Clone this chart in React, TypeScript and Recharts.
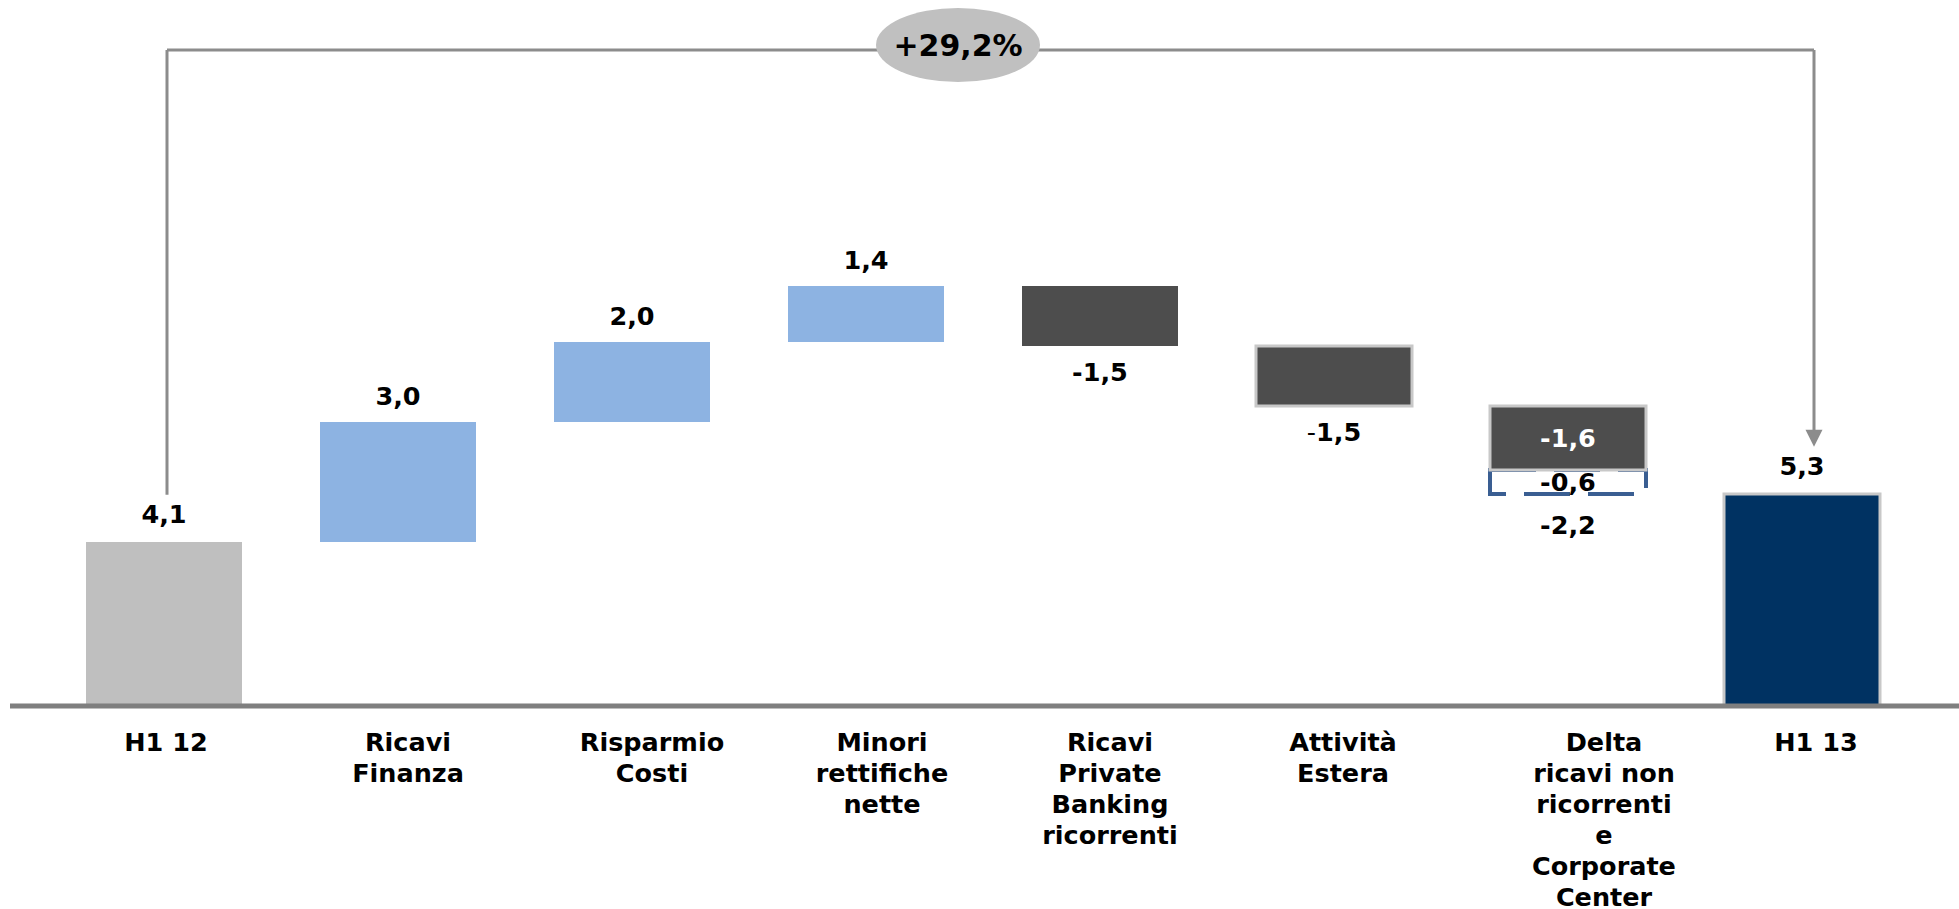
import { Bar, BarChart, ReferenceLine, XAxis, YAxis } from "recharts";

// categories (line breaks as in the slide)
const categories = [
  "H1 12",
  "Ricavi\nFinanza",
  "Risparmio\nCosti",
  "Minori\nrettifiche\nnette",
  "Ricavi\nPrivate\nBanking\nricorrenti",
  "Attività\nEstera",
  "Delta\nricavi non\nricorrenti\ne\nCorporate\nCenter",
  "H1 13",
];
const kinds = ["total", "step", "step", "step", "step", "step", "step", "total"];
const values = [4.1, 3.0, 2.0, 1.4, -1.5, -1.5, -1.6, 5.3];
const dashedValues = [0, 0, 0, 0, 0, 0, -0.6, 0];
const growthLabel = "+29,2%";

const FONT = "Verdana, 'DejaVu Sans', sans-serif";
const labelDx = [2, 10, 20, 16, 10, 9, 36, 14];
const bracketLevel = 16.4;
const bracketGap = 1.18;
// the bracket sits a little right of the bar centres in the slide
const leftShift = 3;
const rightShift = 12;
const LINE = "#8c8c8c";

const fmt = (v: number) => v.toFixed(1).replace(".", ",");

let running = 0;
const rows = categories.map((name, i) => {
  const v = values[i];
  const d = dashedValues[i];
  const row = { name, base: 0, total: 0, up: 0, dash: 0, down: 0 };
  if (kinds[i] === "total") {
    running = v;
    row.total = v;
  } else if (v >= 0) {
    row.base = running;
    row.up = v;
    running += v;
  } else {
    const after = running + v + d;
    row.base = after;
    row.dash = -d;
    row.down = -v;
    running = after;
  }
  return row;
});

const txt = (x: number, y: number, s: React.ReactNode, fill = "#000", size = 25.5) => (
  <text x={x} y={y} textAnchor="middle" fontFamily={FONT} fontWeight="bold" fontSize={size} fill={fill}>
    {s}
  </text>
);

const renderTotal = (p: any) => {
  if (!p.payload.total) return <g />;
  const last = p.index === categories.length - 1;
  return (
    <g>
      <rect
        x={p.x}
        y={p.y}
        width={p.width}
        height={p.height}
        fill={last ? "#003262" : "#bfbfbf"}
        stroke={last ? "#c8c8c8" : "none"}
        strokeWidth={3}
      />
      {txt(p.x + p.width / 2, p.y - 19, fmt(values[p.index]))}
    </g>
  );
};

const renderUp = (p: any) => {
  if (!p.payload.up) return <g />;
  return (
    <g>
      <rect x={p.x} y={p.y} width={p.width} height={p.height} fill="#8db3e2" />
      {txt(p.x + p.width / 2, p.y - 17, fmt(values[p.index]))}
    </g>
  );
};

const renderDash = (p: any) => {
  if (!p.payload.dash) return <g />;
  const i = p.index;
  const cx = p.x + p.width / 2;
  return (
    <g>
      <rect
        x={p.x}
        y={p.y}
        width={p.width}
        height={p.height}
        fill="#fff"
        stroke="#3a5e92"
        strokeWidth={4}
        strokeDasharray="46 18"
      />
      {txt(cx, p.y + p.height / 2 + 9, fmt(dashedValues[i]))}
      {txt(cx, p.y + p.height + 40, fmt(values[i] + dashedValues[i]))}
    </g>
  );
};

const renderDown = (p: any) => {
  if (!p.payload.down) return <g />;
  const i = p.index;
  const cx = p.x + p.width / 2;
  const inside = dashedValues[i] !== 0;
  const s = fmt(values[i]);
  return (
    <g>
      <rect
        x={p.x}
        y={p.y}
        width={p.width}
        height={p.height}
        fill="#4d4d4d"
        stroke={i === 4 ? "none" : "#c8c8c8"}
        strokeWidth={3}
      />
      {inside
        ? txt(cx, p.y + p.height / 2 + 9, s, "#fff")
        : txt(
            cx,
            p.y + p.height + 35,
            i === 5 ? (
              <>
                <tspan fontWeight="normal">-</tspan>
                {s.slice(1)}
              </>
            ) : (
              s
            )
          )}
    </g>
  );
};

const renderTick = (p: any) => {
  const idx = categories.indexOf(p.payload.value);
  const x = p.x + (labelDx[idx] || 0);
  const lines = String(p.payload.value).split("\n");
  return (
    <text x={x} y={p.y + 37} textAnchor="middle" fontFamily={FONT} fontWeight="bold" fontSize={25.5} fill="#000">
      {lines.map((l, k) => (
        <tspan key={k} x={x} dy={k === 0 ? 0 : 31}>
          {l}
        </tspan>
      ))}
    </text>
  );
};

const renderBadge = (p: any) => {
  const vb = p.viewBox;
  const cx = vb.x + vb.width / 2 - 25;
  const cy = vb.y - 5;
  return (
    <g>
      <ellipse cx={cx} cy={cy} rx={82} ry={37} fill="#c0c0c0" />
      {txt(cx, cy + 11, growthLabel, "#000", 30)}
    </g>
  );
};

const renderTop = (p: any) => (
  <line x1={p.x1 + leftShift} y1={p.y1} x2={p.x2 + rightShift} y2={p.y2} stroke={LINE} strokeWidth={3} />
);

const renderLeft = (p: any) => (
  <line x1={p.x1 + leftShift} y1={p.y1} x2={p.x2 + leftShift} y2={p.y2} stroke={LINE} strokeWidth={3} />
);

const renderArrow = (p: any) => {
  const x1 = p.x1 + rightShift;
  const x2 = p.x2 + rightShift;
  const { y1, y2 } = p;
  return (
    <g>
      <line x1={x1} y1={y1} x2={x2} y2={y2 - 15} stroke={LINE} strokeWidth={3} />
      <polygon points={`${x2 - 8.5},${y2 - 17} ${x2 + 8.5},${y2 - 17} ${x2},${y2}`} fill={LINE} />
    </g>
  );
};

export default function App() {
  const first = categories[0];
  const last = categories[categories.length - 1];
  return (
    <div style={{ position: "absolute", left: 0, top: 0, background: "#fff" }}>
      <BarChart
        width={1959}
        height={909}
        data={rows}
        barSize={156}
        margin={{ top: 6, right: 0, left: 10, bottom: 0 }}
      >
        <XAxis
          dataKey="name"
          interval={0}
          tickLine={false}
          axisLine={{ stroke: "#7f7f7f", strokeWidth: 5 }}
          tick={renderTick}
          height={203}
          padding={{ left: 37, right: 40 }}
        />
        <YAxis hide domain={[0, 17.5]} />
        <Bar dataKey="base" stackId="w" barSize={156} fill="transparent" isAnimationActive={false} />
        <Bar dataKey="total" stackId="w" barSize={156} shape={renderTotal} isAnimationActive={false} />
        <Bar dataKey="up" stackId="w" barSize={156} shape={renderUp} isAnimationActive={false} />
        <Bar dataKey="dash" stackId="w" barSize={156} shape={renderDash} isAnimationActive={false} />
        <Bar dataKey="down" stackId="w" barSize={156} shape={renderDown} isAnimationActive={false} />
        <ReferenceLine
          segment={[
            { x: first, y: values[0] + bracketGap },
            { x: first, y: bracketLevel },
          ]}
          shape={renderLeft}
        />
        <ReferenceLine
          segment={[
            { x: last, y: bracketLevel },
            { x: last, y: values[values.length - 1] + bracketGap },
          ]}
          shape={renderArrow}
        />
        <ReferenceLine
          segment={[
            { x: first, y: bracketLevel },
            { x: last, y: bracketLevel },
          ]}
          shape={renderTop}
          label={renderBadge}
        />
      </BarChart>
    </div>
  );
}
